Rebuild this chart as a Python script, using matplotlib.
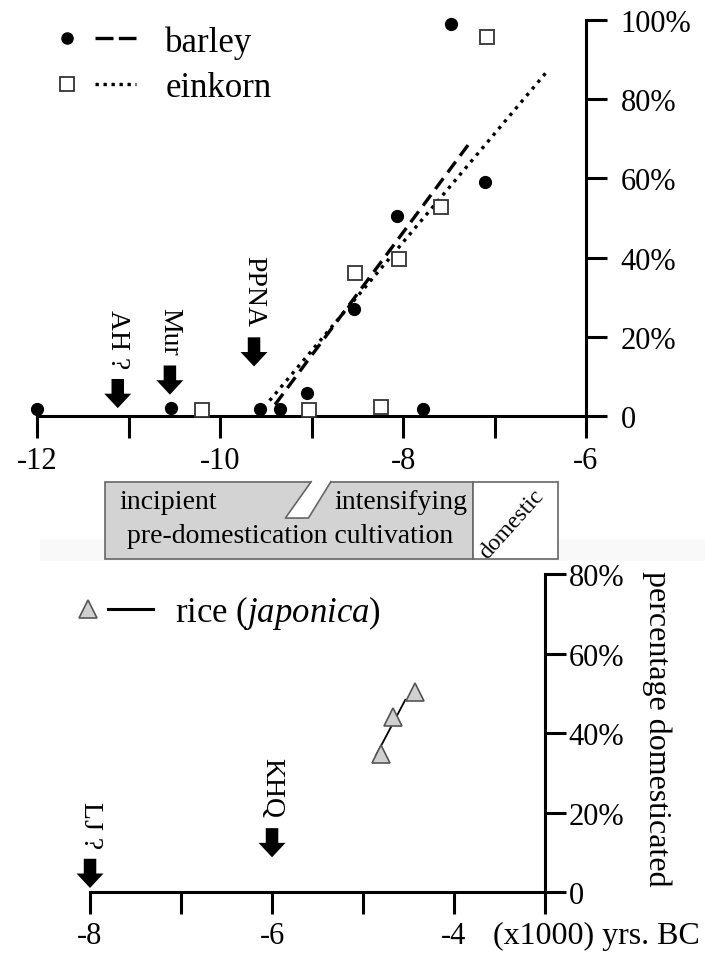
"""Domestication rate of barley, einkorn and rice, redrawn."""
import matplotlib
matplotlib.use("Agg")
import matplotlib.pyplot as plt
from matplotlib.lines import Line2D
from matplotlib.patches import Rectangle, Polygon
from matplotlib.legend_handler import HandlerTuple

plt.rcParams["font.family"] = ["Liberation Serif", "DejaVu Serif"]
plt.rcParams["mathtext.fontset"] = "custom"
plt.rcParams["mathtext.rm"] = "Liberation Serif"
plt.rcParams["mathtext.it"] = "Liberation Serif:italic"

# top panel: SW Asia cereals (x1000 yrs BC, % domesticated)
barley_x = [-12.0, -10.54, -9.56, -9.35, -9.05, -8.54, -8.07, -7.78, -7.48, -7.10]
barley_y = [2.0, 2.2, 2.0, 2.0, 6.0, 27.0, 50.6, 2.0, 98.9, 59.2]
einkorn_x = [-10.20, -9.03, -8.53, -8.24, -8.05, -7.585, -7.08]
einkorn_y = [1.6, 1.6, 36.1, 2.4, 39.6, 52.9, 95.6]
barley_fit_x = [-9.40, -7.29]
barley_fit_y = [3.0, 68.4]
einkorn_fit_x = [-9.46, -6.41]
einkorn_fit_y = [4.0, 87.4]
top_events = ["AH ?", "Mur", "PPNA"]
top_event_x = [-11.12, -10.55, -9.63]
top_event_tip = [2.1, 5.5, 12.6]
top_xticks = [-12, -10, -8, -6]
top_xminor = [-11, -9, -7]
top_yticks = [0, 20, 40, 60, 80, 100]

# stage bar under the top panel
stage_labels = ["pre-domestication cultivation", "domestic"]
stage_start = [-11.26, -7.24]
stage_end = [-7.24, -6.31]
stage_colors = ["#d3d3d3", "white"]

# bottom panel: rice
rice_x = [-4.80, -4.67, -4.43]
rice_y = [34.8, 44.0, 50.3]
rice_fit_x = [-4.86, -4.535]
rice_fit_y = [34.3, 48.4]
bot_events = ["LJ ?", "KHQ"]
bot_event_x = [-8.0, -6.0]
bot_event_tip = [1.1, 8.8]
bot_xticks = [-8, -6, -4]
bot_xminor = [-7, -5, -3]
bot_yticks = [0, 20, 40, 60, 80]


def pct(v):
    return "0" if v == 0 else f"{v}%"


def style(ax, xmaj, xmin, yt, ypad):
    for s in ["left", "top"]:
        ax.spines[s].set_visible(False)
    for s in ["bottom", "right"]:
        ax.spines[s].set_linewidth(2.2)
    ax.yaxis.tick_right()
    ax.set_xticks(xmaj)
    ax.set_xticklabels([str(v) for v in xmaj])
    ax.set_xticks(xmin, minor=True)
    ax.tick_params(axis="x", which="both", direction="out", length=16,
                   width=2.2, labelsize=22, pad=5)
    ax.set_yticks(yt)
    ax.set_yticklabels([pct(v) for v in yt])
    ax.tick_params(axis="y", direction="out", length=15, width=2.2,
                   labelsize=22, pad=ypad)


def arrows(ax, xs, tips, labels):
    for x, t, lab in zip(xs, tips, labels):
        ax.annotate("", xy=(x, t), xytext=(0, 21), textcoords="offset points",
                    arrowprops=dict(arrowstyle="simple,head_length=1.04,"
                                    "head_width=1.94,tail_width=0.9",
                                    mutation_scale=10, fc="k", ec="k", lw=0,
                                    shrinkA=0, shrinkB=0))
        ax.annotate(lab, xy=(x, t), xytext=(0, 29), textcoords="offset points",
                    rotation=-90, ha="center", va="bottom", fontsize=20)


fig = plt.figure(figsize=(7.05, 9.54), dpi=100)

# faint band behind the stage bar
fig.add_artist(Rectangle((40 / 705, 1 - 562 / 954), 665 / 705, 22 / 954,
                         transform=fig.transFigure, fc="#f9f9f9", ec="none",
                         zorder=-1))

ax1 = fig.add_axes([0.0529, 0.5624, 0.7783, 0.4159])
ax1.set_xlim(-12, -6)
ax1.set_ylim(0, 100)
style(ax1, top_xticks, top_xminor, top_yticks, 10)

ax1.plot(barley_fit_x, barley_fit_y, color="k", lw=2.4, dashes=(4.0, 2.2))
ax1.plot(einkorn_fit_x, einkorn_fit_y, color="k", lw=2.4, dashes=(1, 1.6))
ax1.plot(barley_x, barley_y, "o", color="k", ms=8.5, clip_on=False, zorder=5)
ax1.plot(einkorn_x, einkorn_y, "s", mfc="white", mec="#333", mew=1.3, ms=9.5,
         clip_on=False, zorder=5)
arrows(ax1, top_event_x, top_event_tip, top_events)

h_barley = (Line2D([], [], marker="o", ls="none", color="k", ms=8),
            Line2D([], [], color="k", lw=2.4, dashes=(5.4, 1.6)))
h_einkorn = (Line2D([], [], marker="s", ls="none", mfc="white", mec="#333",
                    mew=1.3, ms=9.5),
             Line2D([], [], color="k", lw=2.4, dashes=(1, 1.4)))
ax1.legend([h_barley, h_einkorn], ["barley", "einkorn"],
           handler_map={tuple: HandlerTuple(ndivide=None, pad=0.22)},
           loc="center left", bbox_to_anchor=(0.0168, 0.887), frameon=False,
           fontsize=25, handlelength=2.58, handletextpad=0.84, borderpad=0,
           borderaxespad=0, labelspacing=0.36, numpoints=1)

# stage bar
axb = fig.add_axes([0.0529, 1 - 560 / 954, 0.7783, 77.3 / 954])
axb.set_xlim(-12, -6)
axb.set_ylim(0, 1)
axb.axis("off")
for s0, s1, c in zip(stage_start, stage_end, stage_colors):
    axb.add_patch(Rectangle((s0, 0), s1 - s0, 1, fc=c, ec="#666", lw=1.2,
                            clip_on=False))
notch = [(-9.005, 1.03), (-9.005, 1), (-9.287, 0.53), (-9.035, 0.53),
         (-8.79, 1), (-8.79, 1.03)]
axb.add_patch(Polygon(notch, closed=True, fc="white", ec="none",
                      clip_on=False, zorder=3))
axb.plot([-9.005, -9.287, -9.035, -8.79], [1, 0.53, 0.53, 1], color="#666",
         lw=1.2, clip_on=False, zorder=4)
axb.text(-11.10, 0.66, "incipient", fontsize=20, ha="left", va="baseline")
axb.text(-7.30, 0.66, "intensifying", fontsize=20, ha="right", va="baseline")
axb.text(-9.23, 0.216, stage_labels[0], fontsize=20, ha="center",
         va="baseline")
axb.text(-6.81, 0.46, stage_labels[1], fontsize=17, rotation=48, ha="center",
         va="center", rotation_mode="anchor")

# bottom panel
ax2 = fig.add_axes([0.1277, 0.0636, 0.6454, 0.3337])
ax2.set_xlim(-8, -3)
ax2.set_ylim(0, 80)
style(ax2, bot_xticks, bot_xminor, bot_yticks, 2)

ax2.plot(rice_fit_x, rice_fit_y, color="k", lw=1.3)
ax2.plot(rice_x, rice_y, "^", mfc="#d0d0d0", mec="#555", mew=1.2, ms=13.5,
         clip_on=False, zorder=5)
arrows(ax2, bot_event_x, bot_event_tip, bot_events)

h_rice = (Line2D([], [], marker="^", ls="none", mfc="#d0d0d0", mec="#555",
                 mew=1.2, ms=13.5),
          Line2D([], [], color="k", lw=2.2))
ax2.legend([h_rice], ["rice ($\\it{japonica}$)"],
           handler_map={tuple: HandlerTuple(ndivide=None, pad=-0.072)},
           loc="center left", bbox_to_anchor=(-0.054, 0.88), frameon=False,
           fontsize=25, handlelength=2.52, handletextpad=0.63, borderpad=0,
           borderaxespad=0, numpoints=1)

ax2.set_xlabel("(x1000) yrs. BC", fontsize=23, ha="right", va="center")
ax2.xaxis.set_label_coords(1.341, -0.137)
ax2.yaxis.set_label_position("right")
ax2.set_ylabel("percentage domesticated", fontsize=23, rotation=-90,
               ha="center", va="center")
ax2.yaxis.set_label_coords(1.246, 0.518)

fig.savefig("out.png", dpi=100)
